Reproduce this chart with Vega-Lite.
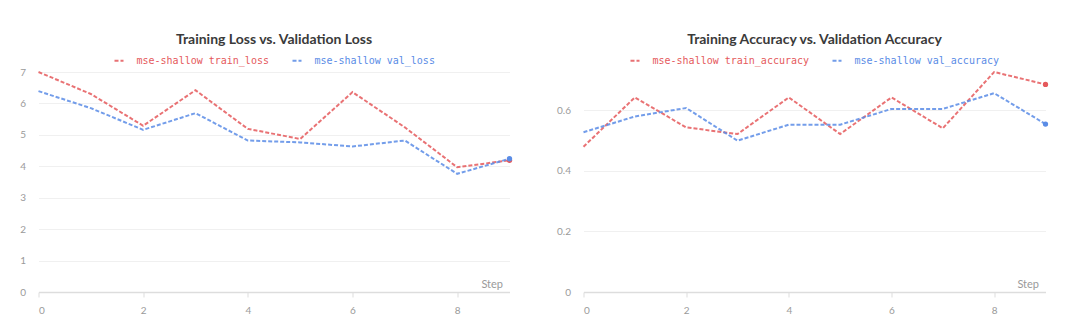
{
  "$schema": "https://vega.github.io/schema/vega-lite/v6.json",
  "padding": {"left": 19.5, "top": 33, "right": 5, "bottom": 5},
  "background": "white",
  "datasets": {
    "loss": [
      {"step": 0, "series": "mse-shallow train_loss", "value": 7.0},
      {"step": 1, "series": "mse-shallow train_loss", "value": 6.3},
      {"step": 2, "series": "mse-shallow train_loss", "value": 5.29},
      {"step": 3, "series": "mse-shallow train_loss", "value": 6.42},
      {"step": 4, "series": "mse-shallow train_loss", "value": 5.19},
      {"step": 5, "series": "mse-shallow train_loss", "value": 4.87},
      {"step": 6, "series": "mse-shallow train_loss", "value": 6.36},
      {"step": 7, "series": "mse-shallow train_loss", "value": 5.24},
      {"step": 8, "series": "mse-shallow train_loss", "value": 3.97},
      {"step": 9, "series": "mse-shallow train_loss", "value": 4.19},
      {"step": 0, "series": "mse-shallow val_loss", "value": 6.39},
      {"step": 1, "series": "mse-shallow val_loss", "value": 5.85},
      {"step": 2, "series": "mse-shallow val_loss", "value": 5.16},
      {"step": 3, "series": "mse-shallow val_loss", "value": 5.69},
      {"step": 4, "series": "mse-shallow val_loss", "value": 4.82},
      {"step": 5, "series": "mse-shallow val_loss", "value": 4.76},
      {"step": 6, "series": "mse-shallow val_loss", "value": 4.63},
      {"step": 7, "series": "mse-shallow val_loss", "value": 4.82},
      {"step": 8, "series": "mse-shallow val_loss", "value": 3.76},
      {"step": 9, "series": "mse-shallow val_loss", "value": 4.24}
    ],
    "acc": [
      {"step": 0, "series": "mse-shallow train_accuracy", "value": 0.48},
      {"step": 1, "series": "mse-shallow train_accuracy", "value": 0.643},
      {"step": 2, "series": "mse-shallow train_accuracy", "value": 0.544},
      {"step": 3, "series": "mse-shallow train_accuracy", "value": 0.522},
      {"step": 4, "series": "mse-shallow train_accuracy", "value": 0.643},
      {"step": 5, "series": "mse-shallow train_accuracy", "value": 0.522},
      {"step": 6, "series": "mse-shallow train_accuracy", "value": 0.643},
      {"step": 7, "series": "mse-shallow train_accuracy", "value": 0.541},
      {"step": 8, "series": "mse-shallow train_accuracy", "value": 0.727},
      {"step": 9, "series": "mse-shallow train_accuracy", "value": 0.686},
      {"step": 0, "series": "mse-shallow val_accuracy", "value": 0.528},
      {"step": 1, "series": "mse-shallow val_accuracy", "value": 0.58},
      {"step": 2, "series": "mse-shallow val_accuracy", "value": 0.608},
      {"step": 3, "series": "mse-shallow val_accuracy", "value": 0.5},
      {"step": 4, "series": "mse-shallow val_accuracy", "value": 0.553},
      {"step": 5, "series": "mse-shallow val_accuracy", "value": 0.553},
      {"step": 6, "series": "mse-shallow val_accuracy", "value": 0.605},
      {"step": 7, "series": "mse-shallow val_accuracy", "value": 0.605},
      {"step": 8, "series": "mse-shallow val_accuracy", "value": 0.657},
      {"step": 9, "series": "mse-shallow val_accuracy", "value": 0.555}
    ]
  },
  "spacing": 43,
  "resolve": {
    "scale": {"x": "independent", "y": "independent", "color": "independent"},
    "legend": {"color": "independent"}
  },
  "hconcat": [
    {
      "width": 471,
      "height": 220,
      "title": {"text": "Training Loss vs. Validation Loss"},
      "data": {"name": "loss"},
      "encoding": {
        "x": {
          "field": "step", "type": "quantitative",
          "scale": {"domain": [0, 9], "nice": false, "zero": false},
          "axis": {"values": [0, 2, 4, 6, 8], "title": "Step", "titleX": 464, "titleY": -5}
        },
        "y": {
          "field": "value", "type": "quantitative",
          "scale": {"domain": [0, 7.0], "nice": false},
          "axis": {"values": [0, 1, 2, 3, 4, 5, 6, 7], "title": null, "format": "~g"}
        },
        "color": {
          "field": "series", "type": "nominal",
          "scale": {"domain": ["mse-shallow train_loss", "mse-shallow val_loss"], "range": ["#e5595c", "#5a8ce6"]},
          "legend": {"title": null}
        }
      },
      "layer": [
        {"mark": {"type": "line", "strokeDash": [4, 2], "strokeWidth": 2, "opacity": 0.85}},
        {"transform": [{"filter": "datum.step == 9"}], "mark": {"type": "point", "filled": true, "size": 28, "opacity": 1}}
      ]
    },
    {
      "width": 462,
      "height": 220,
      "title": {"text": "Training Accuracy vs. Validation Accuracy"},
      "data": {"name": "acc"},
      "encoding": {
        "x": {
          "field": "step", "type": "quantitative",
          "scale": {"domain": [0, 9], "nice": false, "zero": false},
          "axis": {"values": [0, 2, 4, 6, 8], "title": "Step", "titleX": 455, "titleY": -5}
        },
        "y": {
          "field": "value", "type": "quantitative",
          "scale": {"domain": [0, 0.727], "nice": false},
          "axis": {"values": [0, 0.2, 0.4, 0.6], "title": null, "format": "~g"}
        },
        "color": {
          "field": "series", "type": "nominal",
          "scale": {"domain": ["mse-shallow train_accuracy", "mse-shallow val_accuracy"], "range": ["#e5595c", "#5a8ce6"]},
          "legend": {"title": null}
        }
      },
      "layer": [
        {"mark": {"type": "line", "strokeDash": [4, 2], "strokeWidth": 2, "opacity": 0.85}},
        {"transform": [{"filter": "datum.step == 9"}], "mark": {"type": "point", "filled": true, "size": 28, "opacity": 1}}
      ]
    }
  ],
  "config": {
    "view": {"stroke": null},
    "font": "Lato",
    "title": {"fontSize": 14, "fontWeight": "bold", "color": "#3a3a3a", "anchor": "middle", "offset": 8, "font": "Lato"},
    "legend": {
      "orient": "top",
      "direction": "horizontal",
      "layout": {"top": {"anchor": "middle"}},
      "symbolType": "stroke",
      "symbolDash": [4, 2],
      "symbolStrokeWidth": 2,
      "symbolSize": 81,
      "labelFont": "DejaVu Sans Mono",
      "labelFontSize": 10,
      "labelColor": {"expr": "indexof(datum.value, 'train') >= 0 ? '#e5595c' : '#5a8ce6'"},
      "labelOffset": 12,
      "columnPadding": 19,
      "padding": 0,
      "offset": 2
    },
    "axis": {
      "labelColor": "#9a9a9a",
      "labelFontSize": 10,
      "labelFont": "Lato",
      "titleColor": "#9a9a9a",
      "titleFont": "Lato",
      "titleFontSize": 11,
      "titleFontWeight": "normal",
      "gridColor": "#f0f0f0",
      "domainColor": "#dddddd",
      "tickColor": "#dddddd"
    },
    "axisX": {
      "grid": false,
      "domainWidth": 1.5,
      "tickSize": 5,
      "labelPadding": 8,
      "titleAnchor": "end",
      "titleAlign": "right",
      "titleBaseline": "alphabetic"
    },
    "axisY": {
      "domain": false,
      "ticks": false,
      "labelPadding": 13,
      "grid": true
    }
  }
}
